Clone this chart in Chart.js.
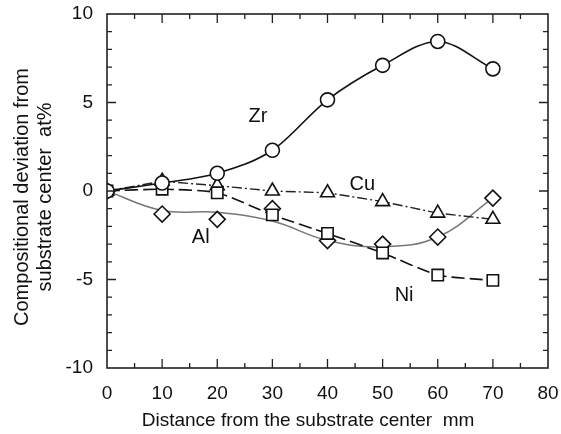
<!DOCTYPE html>
<html>
<head>
<meta charset="utf-8">
<script src="https://cdn.jsdelivr.net/npm/chart.js@4"></script>
<style>
  html, body { margin: 0; padding: 0; background: #fff; }
  #wrap { width: 561px; height: 434px; }
</style>
</head>
<body>
<div id="wrap"><canvas id="chart"></canvas></div>
<script>
// distance from substrate center, mm
var distance = [0, 10, 20, 30, 40, 50, 60, 70];

// compositional deviation, at%
var zr = [0, 0.45, 1.0, 2.3, 5.15, 7.1, 8.45, 6.9];
var cu = [0, 0.55, 0.3, 0.0, -0.1, -0.6, -1.25, -1.6];
var ni = [0, 0.1, -0.1, -1.35, -2.4, -3.5, -4.75, -5.05];
var al = [0, -1.3, -1.6, -1.0, -2.8, -3.0, -2.6, -0.4];
// smoothed curve drawn through the Al points
var alCurve = [0, -1.1, -1.2, -1.7, -2.8, -3.15, -2.6, -0.4];

var xTicks = [0, 10, 20, 30, 40, 50, 60, 70, 80];
var yTicks = [-10, -5, 0, 5, 10];

var seriesNames = ['Zr', 'Cu', 'Al', 'Ni'];
var nameX = [27.4, 46.3, 17, 53.9];
var nameY = [4.2, 0.35, -2.65, -5.9];

function pts(ys) {
    return distance.map(function(x, i) { return {x: x, y: ys[i]}; });
}

var font = 'Liberation Sans, Arial, Helvetica, sans-serif';

var frame = {
    id: 'frame',
    afterDatasetsDraw: function(chart) {
        var ctx = chart.ctx;
        var a = chart.chartArea;
        var xs = chart.scales.x, ys = chart.scales.y;
        ctx.save();
        ctx.strokeStyle = '#222';
        ctx.lineWidth = 1.6;
        ctx.strokeRect(a.left, a.top, a.right - a.left, a.bottom - a.top);
        ctx.lineWidth = 1.3;
        ctx.beginPath();
        for (var v = 5; v < 80; v += 5) {
            var px = xs.getPixelForValue(v);
            var len = v % 10 === 0 ? 9 : 5;
            ctx.moveTo(px, a.bottom); ctx.lineTo(px, a.bottom - len);
            ctx.moveTo(px, a.top); ctx.lineTo(px, a.top + len);
        }
        for (var w = -9; w < 10; w++) {
            var py = ys.getPixelForValue(w);
            var l2 = w % 5 === 0 ? 9 : 5;
            ctx.moveTo(a.left, py); ctx.lineTo(a.left + l2, py);
            ctx.moveTo(a.right, py); ctx.lineTo(a.right - l2, py);
        }
        ctx.stroke();

        // series names
        ctx.fillStyle = '#111';
        ctx.font = '20px ' + font;
        ctx.textAlign = 'center';
        ctx.textBaseline = 'middle';
        seriesNames.forEach(function(n, i) {
            ctx.fillText(n, xs.getPixelForValue(nameX[i]), ys.getPixelForValue(nameY[i]));
        });

        // axis titles
        ctx.font = '19px ' + font;
        ctx.fillText('Distance from the substrate center  mm', 308, 421);
        ctx.font = '20px ' + font;
        ctx.translate(0, 197);
        ctx.rotate(-Math.PI / 2);
        ctx.fillText('Compositional deviation from', 0, 22);
        ctx.fillText('substrate center  at%', 0, 45);
        ctx.restore();
    }
};

new Chart(document.getElementById('chart'), {
    type: 'scatter',
    data: {
        datasets: [{
            label: 'Zr',
            data: pts(zr),
            showLine: true,
            borderColor: '#111',
            borderWidth: 1.6,
            cubicInterpolationMode: 'monotone',
            pointStyle: 'circle',
            pointRadius: 7,
            pointBackgroundColor: '#fff',
            pointBorderColor: '#111',
            pointBorderWidth: 1.6,
            order: 1
        }, {
            label: 'Cu',
            data: pts(cu),
            showLine: true,
            borderColor: '#222',
            borderWidth: 1.4,
            borderDash: [10, 3, 2, 3],
            tension: 0,
            pointStyle: 'triangle',
            pointRadius: 8,
            pointBackgroundColor: '#fff',
            pointBorderColor: '#111',
            pointBorderWidth: 1.6,
            order: 4
        }, {
            label: 'Ni',
            data: pts(ni),
            showLine: true,
            borderColor: '#111',
            borderWidth: 1.6,
            borderDash: [13, 5],
            tension: 0.2,
            pointStyle: 'rect',
            pointRadius: 8,
            pointBackgroundColor: '#fff',
            pointBorderColor: '#111',
            pointBorderWidth: 1.6,
            order: 2
        }, {
            label: 'Al',
            data: pts(al),
            showLine: false,
            pointStyle: 'rectRot',
            pointRadius: 8,
            pointBackgroundColor: '#fff',
            pointBorderColor: '#111',
            pointBorderWidth: 1.6,
            order: 3
        }, {
            label: 'Al curve',
            data: pts(alCurve),
            showLine: true,
            borderColor: '#777',
            borderWidth: 1.5,
            tension: 0.4,
            pointRadius: 0,
            order: 5
        }]
    },
    options: {
        responsive: true,
        maintainAspectRatio: false,
        animation: false,
        layout: { padding: { top: 14, right: 13, left: 0, bottom: 0 } },
        plugins: {
            legend: { display: false },
            tooltip: { enabled: false }
        },
        scales: {
            x: {
                type: 'linear',
                min: 0,
                max: 80,
                afterBuildTicks: function(s) { s.ticks = xTicks.map(function(v) { return {value: v}; }); },
                afterFit: function(s) {
                    s.height = 66;
                    s.paddingLeft = 0; s.paddingRight = 0;
                },
                grid: { display: false, drawTicks: false },
                border: { display: false },
                ticks: { padding: 14, color: '#111', font: { family: font, size: 19 } }
            },
            y: {
                min: -10,
                max: 10,
                afterBuildTicks: function(s) { s.ticks = yTicks.map(function(v) { return {value: v}; }); },
                afterFit: function(s) {
                    s.width = 107;
                    s.paddingTop = 0; s.paddingBottom = 0;
                },
                grid: { display: false, drawTicks: false },
                border: { display: false },
                ticks: { padding: 14, color: '#111', font: { family: font, size: 19 } }
            }
        }
    },
    plugins: [frame]
});
</script>
</body>
</html>
